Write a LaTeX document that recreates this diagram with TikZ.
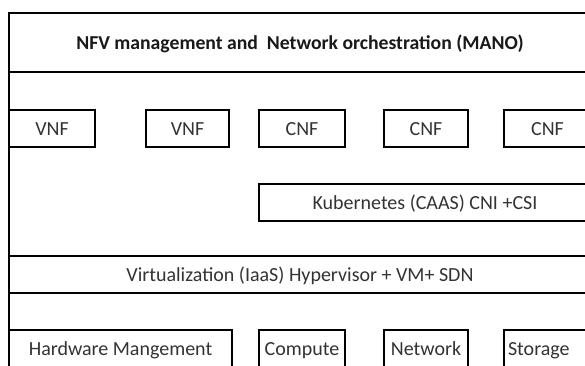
\documentclass[tikz,border=0pt]{standalone}
\usepackage{fontspec}
\setmainfont{Carlito}
\usetikzlibrary{positioning}

\begin{document}
\begin{tikzpicture}[
    x=1pt, y=-1pt,
    frame/.style={draw, line width=1.8pt, inner sep=0pt, outer sep=0pt, anchor=north west},
    fnbox/.style={frame, font=\fontsize{20}{24}\selectfont, text=black!80, text height=13pt, text depth=0pt},
    ]
    \useasboundingbox (0,0) rectangle (585,365);
    \fill[white] (0,0) rectangle (585,365);
    \clip (0,0) rectangle (585,365);

    % layers, cut off at the right and bottom edge
    \node[fnbox, minimum width=582pt, minimum height=59pt, font=\bfseries\fontsize{19.7}{23}\selectfont, text=black!90] (mano) at (9,13) {NFV management and\ \ Network orchestration (MANO)};
    \node[frame, minimum width=582pt, minimum height=184pt] (cloud) at (9,72) {};
    \node[fnbox, minimum width=582pt, minimum height=37pt] (virt) at (9,256) {Virtualization (IaaS) Hypervisor + VM+ SDN};
    \node[frame, minimum width=582pt, minimum height=80pt] (infra) at (9,293) {};

    % network functions
    \foreach \n/\x/\w/\t in {vnf1/9/86/VNF, vnf2/146/83/VNF, cnf1/259/86/CNF, cnf2/384/84/CNF, cnf3/504/87/CNF}{
    \node[fnbox, minimum width=\w pt, minimum height=37pt] (\n) at (\x,110) {\t};
    }
    \node[fnbox, minimum width=332pt, minimum height=37pt] (k8s) at (259,184) {Kubernetes (CAAS) CNI +CSI};

    % hardware
    \foreach \n/\x/\w/\t in {hw/9/223/Hardware Mangement, compute/259/86/Compute, network/384/84/Network}{
    \node[fnbox, minimum width=\w pt, minimum height=37pt] (\n) at (\x,330) {\t};
    }
    \node[fnbox, minimum height=37pt, text width=79pt, inner xsep=4pt, align=left] (storage) at (504,330) {Storage};

\end{tikzpicture}
\end{document}
